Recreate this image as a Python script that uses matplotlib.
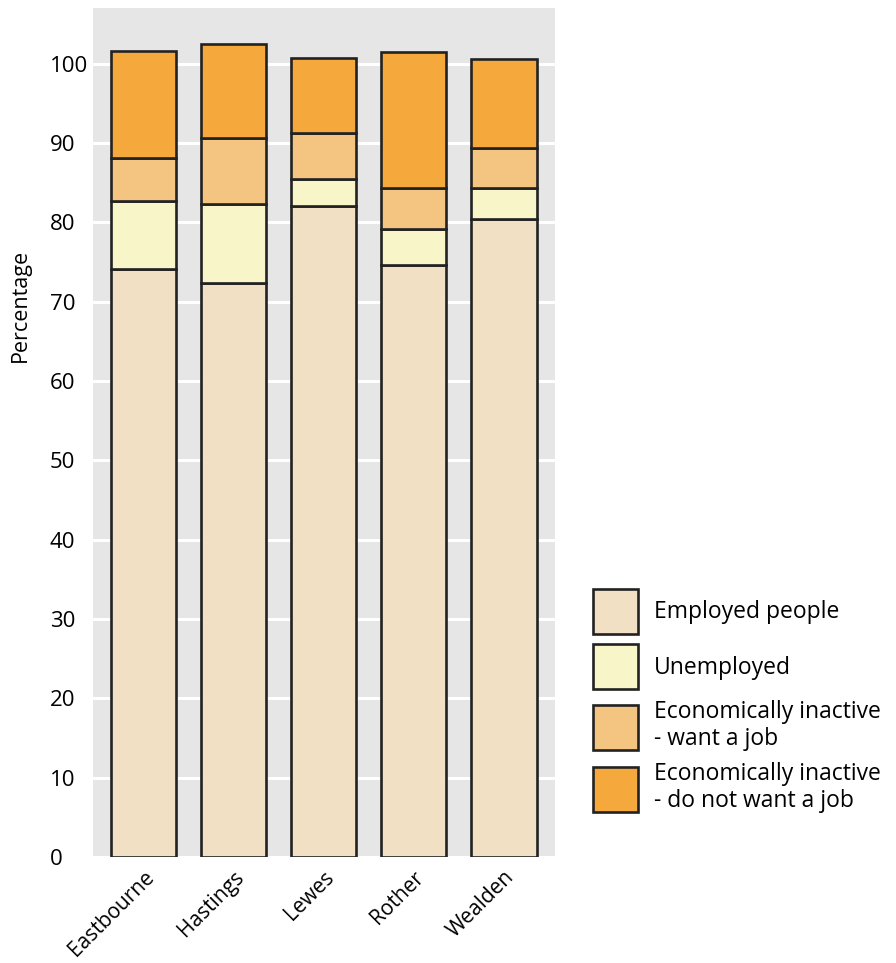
import numpy as np
import matplotlib.pyplot as plt
from matplotlib.patches import Patch

plt.rcParams['font.family'] = ['Open Sans', 'DejaVu Sans']

areas = ["Eastbourne", "Hastings", "Lewes", "Rother", "Wealden"]
employed = [74.1, 72.3, 82.1, 74.6, 80.4]
unemployed = [8.6, 10.0, 3.3, 4.5, 3.9]
inactive_want = [5.4, 8.3, 5.9, 5.2, 5.0]
inactive_not_want = [13.5, 11.9, 9.4, 17.2, 11.3]

series_labels = ["Employed people", "Unemployed",
                 "Economically inactive\n- want a job",
                 "Economically inactive\n- do not want a job"]
colors = ["#F2E0C4", "#F8F6C8", "#F4C481", "#F5A93C"]
edge = "#222222"

fig = plt.figure(figsize=(8.96, 9.63), dpi=100)
ax = fig.add_axes([93 / 896, 1 - 857 / 963, 462 / 896, 849 / 963])
ax.set_facecolor("#E6E6E6")

x = np.arange(len(areas))
bottom = np.zeros(len(areas))
for vals, col in zip([employed, unemployed, inactive_want, inactive_not_want], colors):
    ax.bar(x, vals, width=0.73, bottom=bottom, color=col, edgecolor=edge,
           linewidth=1.9, zorder=3)
    bottom += np.array(vals)

ax.set_xlim(-0.56, 4.57)
ax.set_ylim(0, 107)
ax.set_yticks(range(0, 101, 10))
ax.yaxis.grid(True, color="white", linewidth=2.2, zorder=0)
ax.set_axisbelow(True)
for s in ax.spines.values():
    s.set_visible(False)
ax.tick_params(axis="both", length=0, labelsize=16)
for lbl in ax.get_yticklabels():
    lbl.set_horizontalalignment("left")
ax.tick_params(axis="y", pad=31)

ax.set_xticks(x)
ax.set_xticklabels(areas, rotation=45, ha="right", rotation_mode="anchor", fontsize=15)
ax.tick_params(axis="x", pad=7)

ax.set_ylabel("Percentage", fontsize=15.5)
ax.yaxis.set_label_coords(-0.135, 0.65)

handles = [Patch(facecolor=c, edgecolor=edge, linewidth=1.9) for c in colors]
fig.legend(handles, series_labels, loc="upper left",
           bbox_to_anchor=(593 / 896, 1 - 589 / 963), frameon=False,
           fontsize=16.5, handlelength=1.95, handleheight=2.65,
           labelspacing=0.45, handletextpad=0.7, borderaxespad=0,
           borderpad=0)

fig.savefig("out.png", dpi=100)
